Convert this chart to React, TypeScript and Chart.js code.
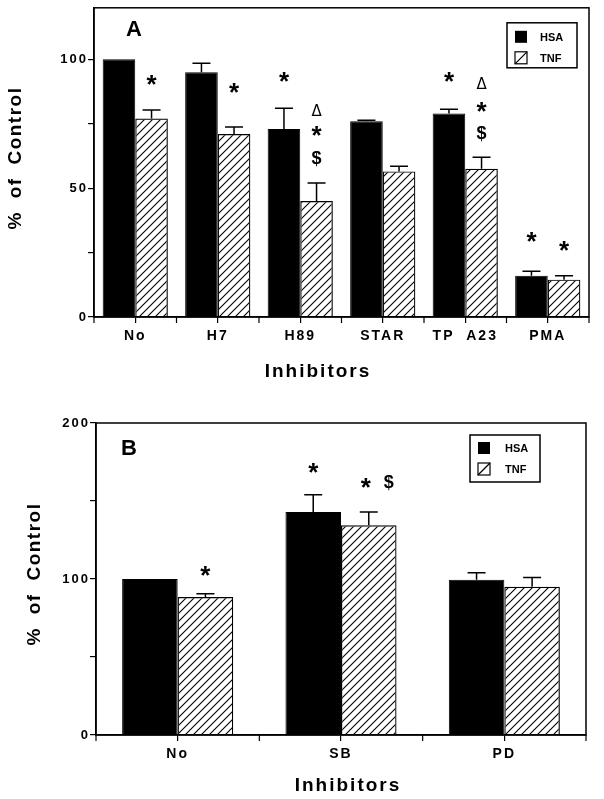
import React, { useEffect, useRef } from 'react';
import { Chart, registerables } from 'chart.js';

Chart.register(...registerables);

const FONT = "'Liberation Sans', Arial, Helvetica, sans-serif";

const seriesLabels = ['HSA', 'TNF'];

// Panel A
const categoriesA = ['No', 'H7', 'H89', 'STAR', 'TP  A23', 'PMA'];
const hsaA = [100, 95, 73, 76, 79, 16];
const hsaSemA = [0, 3.5, 8, 0.4, 1.6, 1.8];
const tnfA = [77, 71, 45, 56.5, 57.5, 14.5];
const tnfSemA = [3.3, 2.7, 7, 2, 4.5, 1.5];
const yTicksA = [0, 25, 50, 75, 100];
const yLabelsA = [0, 50, 100];
const yMaxA = 120;
// significance marks: [category, series (0 HSA / 1 TNF), symbol, level]
const marksA: [number, number, string, number][] = [
  [0, 1, '*', 92],
  [1, 1, '*', 89],
  [2, 0, '*', 93],
  [2, 1, 'Δ', 80.5],
  [2, 1, '*', 72],
  [2, 1, '$', 61.5],
  [4, 0, '*', 93],
  [4, 1, 'Δ', 91],
  [4, 1, '*', 81.5],
  [4, 1, '$', 71],
  [5, 0, '*', 31],
  [5, 1, '*', 27.5],
];

// Panel B
const categoriesB = ['No', 'SB', 'PD'];
const hsaB = [100, 143, 99.5];
const hsaSemB = [0, 11, 4.5];
const tnfB = [88.5, 134.5, 95];
const tnfSemB = [2, 8.5, 6];
const yTicksB = [0, 50, 100, 150, 200];
const yLabelsB = [0, 100, 200];
const yMaxB = 200;
const marksB: [number, number, string, number][] = [
  [0, 1, '*', 105],
  [1, 0, '*', 171],
  [1, 1, '*', 161.5],
  [1, 1, '$', 161.5],
];

function makeHatch(ctx: CanvasRenderingContext2D) {
  const c = document.createElement('canvas');
  c.width = 8;
  c.height = 8;
  const g = c.getContext('2d')!;
  g.strokeStyle = '#000';
  g.lineWidth = 1.1;
  g.beginPath();
  g.moveTo(0, 8);
  g.lineTo(8, 0);
  g.moveTo(-1, 1);
  g.lineTo(1, -1);
  g.moveTo(7, 9);
  g.lineTo(9, 7);
  g.stroke();
  return ctx.createPattern(c, 'repeat')!;
}

type Layout = {
  height: number;
  area: { left: number; right: number; top: number; bottom: number };
  legend: { dx: number; dy: number; w: number; h: number; s1: number; s2: number; tx: number };
  letter: string;
  letterPos: { dx: number; dy: number };
  xTitle: { x: number; y: number };
  yTitle: { x: number; y: number };
  markDx: (m: [number, number, string, number], idx: number) => number;
  catPct: number;
};

type PanelData = {
  categories: string[];
  hsa: number[];
  hsaSem: number[];
  tnf: number[];
  tnfSem: number[];
  yTicks: number[];
  yLabels: number[];
  yMax: number;
  marks: [number, number, string, number][];
};

function centeredText(ctx: CanvasRenderingContext2D, text: string, x: number, y: number) {
  const m = ctx.measureText(text);
  const asc = m.actualBoundingBoxAscent;
  const desc = m.actualBoundingBoxDescent;
  ctx.textAlign = 'center';
  ctx.textBaseline = 'alphabetic';
  ctx.fillText(text, x, y + (asc - desc) / 2);
}

function Panel({ data, layout }: { data: PanelData; layout: Layout }) {
  const ref = useRef<HTMLCanvasElement>(null);

  useEffect(() => {
    const canvas = ref.current!;
    const ctx0 = canvas.getContext('2d')!;
    const hatch = makeHatch(ctx0);
    const A = layout.area;

    const decor = {
      id: 'decor',
      beforeDraw(chart: any) {
        (chart.ctx as any).letterSpacing = '2px';
      },
      afterDatasetsDraw(chart: any) {
        const ctx: CanvasRenderingContext2D = chart.ctx;
        const ca = chart.chartArea;
        const y = chart.scales.y;
        const x = chart.scales.x;
        ctx.save();
        (ctx as any).letterSpacing = '0px';
        // frame
        ctx.strokeStyle = '#000';
        ctx.lineWidth = 1.5;
        ctx.strokeRect(ca.left, ca.top, ca.right - ca.left, ca.bottom - ca.top);
        // boundary ticks on x axis
        const n = data.categories.length;
        ctx.lineWidth = 1.2;
        ctx.beginPath();
        for (let i = 0; i <= n; i++) {
          const px = x.getPixelForValue(i - 0.5);
          ctx.moveTo(px, ca.bottom);
          ctx.lineTo(px, ca.bottom + 6);
        }
        ctx.stroke();

        // error bars (upper whisker only)
        const sems = [data.hsaSem, data.tnfSem];
        const vals = [data.hsa, data.tnf];
        ctx.lineWidth = 1.5;
        for (let d = 0; d < 2; d++) {
          const meta = chart.getDatasetMeta(d);
          meta.data.forEach((bar: any, i: number) => {
            if (!sems[d][i]) return;
            const top = y.getPixelForValue(vals[d][i] + sems[d][i]);
            const base = y.getPixelForValue(vals[d][i]);
            ctx.beginPath();
            ctx.moveTo(bar.x, base);
            ctx.lineTo(bar.x, top);
            ctx.moveTo(bar.x - 9, top);
            ctx.lineTo(bar.x + 9, top);
            ctx.stroke();
          });
        }

        // significance marks
        ctx.fillStyle = '#000';
        data.marks.forEach((m, idx) => {
          const [c, d, sym, lvl] = m;
          const bar = chart.getDatasetMeta(d).data[c];
          const px = bar.x + layout.markDx(m, idx);
          const py = y.getPixelForValue(lvl);
          if (sym === '*') ctx.font = `bold 26px ${FONT}`;
          else if (sym === '$') ctx.font = `bold 18px ${FONT}`;
          else ctx.font = `15px 'DejaVu Sans', ${FONT}`;
          centeredText(ctx, sym, px, py);
        });

        // panel letter
        ctx.font = `bold 22px ${FONT}`;
        ctx.textAlign = 'center';
        ctx.textBaseline = 'alphabetic';
        ctx.fillText(layout.letter, ca.left + layout.letterPos.dx, ca.top + layout.letterPos.dy);

        // legend
        const L = layout.legend;
        const lx = ca.right - L.dx;
        const ly = ca.top + L.dy;
        ctx.fillStyle = '#fff';
        ctx.fillRect(lx, ly, L.w, L.h);
        ctx.lineWidth = 1.5;
        ctx.strokeRect(lx, ly, L.w, L.h);
        const sw = 12;
        ctx.fillStyle = '#000';
        ctx.fillRect(lx + 8, ly + L.s1, sw, sw);
        ctx.fillStyle = '#fff';
        ctx.fillRect(lx + 8, ly + L.s2, sw, sw);
        ctx.lineWidth = 1.2;
        ctx.strokeRect(lx + 8, ly + L.s2, sw, sw);
        ctx.beginPath();
        ctx.moveTo(lx + 8, ly + L.s2 + sw);
        ctx.lineTo(lx + 8 + sw, ly + L.s2);
        ctx.stroke();
        ctx.fillStyle = '#000';
        ctx.font = `bold 11px ${FONT}`;
        ctx.textAlign = 'left';
        ctx.textBaseline = 'middle';
        ctx.fillText(seriesLabels[0], lx + L.tx, ly + L.s1 + sw / 2 + 1);
        ctx.fillText(seriesLabels[1], lx + L.tx, ly + L.s2 + sw / 2 + 1);

        // axis titles
        (ctx as any).letterSpacing = '2px';
        ctx.font = `bold 19px ${FONT}`;
        ctx.textAlign = 'center';
        ctx.textBaseline = 'alphabetic';
        ctx.fillText('Inhibitors', layout.xTitle.x, layout.xTitle.y);
        ctx.save();
        ctx.translate(layout.yTitle.x, layout.yTitle.y);
        ctx.rotate(-Math.PI / 2);
        (ctx as any).letterSpacing = '1.5px';
        (ctx as any).wordSpacing = '6px';
        ctx.font = `bold 19px ${FONT}`;
        ctx.textBaseline = 'middle';
        ctx.fillText('% of Control', 0, 0);
        ctx.restore();
        ctx.restore();
      },
    };

    const chart = new Chart(canvas, {
      type: 'bar',
      data: {
        labels: data.categories,
        datasets: [
          {
            label: seriesLabels[0],
            data: data.hsa,
            backgroundColor: '#000',
            borderColor: '#000',
            borderWidth: 1,
            categoryPercentage: layout.catPct,
            barPercentage: 1,
          },
          {
            label: seriesLabels[1],
            data: data.tnf,
            backgroundColor: hatch as any,
            borderColor: '#000',
            borderWidth: 1.2,
            categoryPercentage: layout.catPct,
            barPercentage: 1,
          },
        ],
      },
      options: {
        responsive: false,
        animation: false,
        devicePixelRatio: 1,
        layout: {
          padding: { left: 0, top: A.top, right: 604 - A.right, bottom: 0 },
        },
        plugins: {
          legend: { display: false },
          tooltip: { enabled: false },
          title: { display: false },
        },
        scales: {
          x: {
            grid: {
              display: true,
              offset: false,
              drawOnChartArea: false,
              tickLength: 6,
              color: '#000',
              lineWidth: 1.2,
            },
            border: { display: true, color: '#000', width: 1.5 },
            ticks: {
              color: '#000',
              font: { family: FONT, size: 14, weight: 'bold' },
              padding: 5,
              maxRotation: 0,
              autoSkip: false,
            },
            afterFit: (s: any) => {
              s.height = layout.height - A.bottom;
            },
          },
          y: {
            min: 0,
            max: data.yMax,
            grid: {
              display: true,
              drawOnChartArea: false,
              tickLength: 6,
              color: '#000',
              lineWidth: 1.2,
            },
            border: { display: true, color: '#000', width: 1.5 },
            ticks: {
              color: '#000',
              font: { family: FONT, size: 13, weight: 'bold' },
              padding: 0,
              callback: (v: any) => (data.yLabels.includes(Number(v)) ? String(v) : ''),
            },
            afterBuildTicks: (s: any) => {
              s.ticks = data.yTicks.map((v) => ({ value: v }));
            },
            afterFit: (s: any) => {
              s.width = A.left;
            },
          },
        },
      },
      plugins: [decor],
    });
    return () => chart.destroy();
  }, []);

  return <canvas ref={ref} width={604} height={layout.height} style={{ display: 'block', width: 604, height: layout.height }} />;
}

const layoutA: Layout = {
  height: 400,
  area: { left: 94, right: 589, top: 5, bottom: 317 },
  legend: { dx: 82, dy: 15, w: 70, h: 45, s1: 8, s2: 29, tx: 33 },
  letter: 'A',
  letterPos: { dx: 40, dy: 28 },
  xTitle: { x: 318, y: 377 },
  yTitle: { x: 16, y: 158 },
  markDx: () => 0,
  catPct: 0.79,
};

const layoutB: Layout = {
  height: 399,
  area: { left: 96, right: 586, top: 23, bottom: 335 },
  legend: { dx: 116, dy: 12, w: 70, h: 47, s1: 7, s2: 28, tx: 35 },
  letter: 'B',
  letterPos: { dx: 33, dy: 32 },
  xTitle: { x: 348, y: 391 },
  yTitle: { x: 35, y: 174 },
  markDx: (m) => (m[2] === '$' ? 20 : m[0] === 1 && m[1] === 1 ? -3 : 0),
  catPct: 0.68,
};

export default function App() {
  return (
    <div style={{ position: 'absolute', left: 0, top: 0, width: 604, height: 799, background: '#fff' }}>
      <Panel
        data={{
          categories: categoriesA,
          hsa: hsaA,
          hsaSem: hsaSemA,
          tnf: tnfA,
          tnfSem: tnfSemA,
          yTicks: yTicksA,
          yLabels: yLabelsA,
          yMax: yMaxA,
          marks: marksA,
        }}
        layout={layoutA}
      />
      <Panel
        data={{
          categories: categoriesB,
          hsa: hsaB,
          hsaSem: hsaSemB,
          tnf: tnfB,
          tnfSem: tnfSemB,
          yTicks: yTicksB,
          yLabels: yLabelsB,
          yMax: yMaxB,
          marks: marksB,
        }}
        layout={layoutB}
      />
    </div>
  );
}
